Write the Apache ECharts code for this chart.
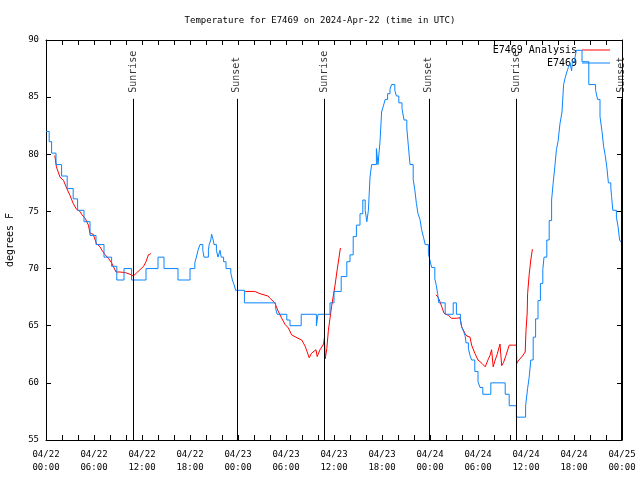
<!DOCTYPE html>
<html><head><meta charset="utf-8">
<script src="https://cdn.jsdelivr.net/npm/echarts@6/dist/echarts.min.js"></script>
<style>html,body{margin:0;padding:0;background:#fff}#c{width:640px;height:480px}</style>
</head><body><div id="c"></div>
<script>
const titleText = 'Temperature for E7469 on 2024-Apr-22 (time in UTC)';
const yAxisName = 'degrees F';
const xTickLabels = ['04/22\n00:00','04/22\n06:00','04/22\n12:00','04/22\n18:00','04/23\n00:00','04/23\n06:00','04/23\n12:00','04/23\n18:00','04/24\n00:00','04/24\n06:00','04/24\n12:00','04/24\n18:00','04/25\n00:00'];
const seriesNames = ['E7469 Analysis', 'E7469'];

// hours since 04/22 00:00 UTC
const obsHours = [0,0.4,0.7,1.25,1.95,2.65,3.4,3.95,4.75,5.5,6.25,7.25,8.2,8.85,9.75,10.7,12.5,14.0,14.75,16.5,18.0,18.6,18.8,19.0,19.25,19.6,19.75,20.3,20.4,20.6,20.7,20.9,21.0,21.3,21.5,21.75,21.9,22.2,22.5,23.1,23.3,23.5,23.7,24.8,28.7,28.9,30.1,30.5,31.9,33.8,34.0,35.5,36.0,36.9,37.6,38.0,38.4,38.8,39.25,39.6,39.9,40.1,40.3,40.5,40.7,41.3,41.5,41.75,41.95,42.2,42.4,42.7,43.0,43.2,43.6,43.8,44.1,44.5,44.75,45.1,45.3,45.5,45.9,46.1,46.3,46.5,46.75,46.95,47.2,47.4,47.8,48.0,48.2,48.6,48.8,48.95,49.1,49.9,50.9,51.3,51.8,51.95,52.2,52.4,52.5,52.8,53.0,53.2,53.6,54.0,54.25,54.6,55.6,57.4,57.9,58.8,59.95,60.2,60.4,60.6,60.9,61.2,61.5,61.8,62.1,62.25,62.6,62.9,63.2,63.4,63.6,63.8,64.0,64.25,64.5,64.7,64.9,65.1,65.3,65.5,65.7,65.8,66.1,66.3,67.0,67.85,68.7,68.95,69.25,69.5,69.7,69.9,70.1,70.3,70.6,70.7,70.85,71.3,71.5,71.7,71.9];
const obsTemps = [82.0,81.1,80.1,79.1,78.1,77.0,76.1,75.1,74.1,72.9,72.1,71.0,70.2,69.0,70.0,69.0,70.0,71.0,70.0,69.0,70.0,70.5,71.0,71.6,72.1,71.6,71.0,71.6,72.1,72.5,73.0,72.5,72.1,71.6,71.0,71.6,71.0,70.6,70.0,69.6,69.0,68.6,68.1,67.0,66.5,66.0,65.5,65.0,66.0,65.0,66.0,67.0,68.0,69.3,70.6,71.2,72.8,73.8,74.8,76.0,75.1,74.1,75.1,78.0,79.1,80.5,79.1,81.1,83.7,84.3,84.8,85.3,85.7,86.1,85.6,85.1,84.5,84.0,83.0,82.3,80.7,79.1,77.8,76.9,75.7,74.8,74.3,73.4,72.7,72.1,71.3,70.7,70.1,69.1,68.5,67.8,67.0,66.0,67.0,66.0,65.5,64.9,64.5,64.1,63.5,63.0,62.4,62.0,61.0,60.1,59.6,59.0,60.0,59.0,58.0,57.0,58.0,59.5,60.5,62.0,64.0,65.6,67.2,68.7,69.9,71.0,72.5,74.2,76.0,77.5,78.9,80.4,81.1,82.7,83.7,86.1,86.7,87.2,87.6,88.0,87.3,88.1,88.4,89.1,88.1,86.1,85.6,84.8,83.3,82.0,80.7,79.9,78.9,77.5,77.1,76.3,75.1,74.5,73.7,72.5,72.3];

const anaHours = [1.1,1.3,1.75,2.2,2.6,3.0,3.4,3.8,4.25,4.5,4.9,5.1,5.3,5.5,5.9,6.3,6.75,7.0,7.4,7.8,8.2,8.75,9.25,9.9,10.5,10.9,11.3,11.75,12.2,12.5,12.8,13.1,
  18,
  24.9,26.1,26.75,27.75,28.0,28.6,29.0,29.5,29.9,30.3,30.7,31.5,31.96,32.4,32.9,33.2,33.75,33.9,34.25,34.7,34.8,34.9,35.1,35.3,35.7,36.1,36.4,36.8,
  42,
  48.75,49.0,49.25,49.5,49.75,50.3,50.7,51.3,51.75,51.96,52.4,52.6,53.0,53.2,53.6,54.0,54.5,54.9,55.3,55.5,55.7,55.9,56.1,56.4,56.75,56.96,57.2,57.5,57.9,58.4,58.8,58.85,59.0,59.5,59.9,60.0,60.15,60.2,60.4,60.6,60.8];
const anaTemps = [79.9,78.9,78.0,77.7,77.0,76.4,75.7,75.2,75.0,74.7,74.4,74.3,73.8,73.1,73.0,72.2,71.9,71.6,71.2,70.9,70.5,69.7,69.7,69.65,69.5,69.35,69.6,69.9,70.2,70.6,71.2,71.3,
  null,
  68.0,68.0,67.8,67.6,67.4,67.0,66.3,65.6,65.1,64.8,64.2,63.9,63.75,63.2,62.2,62.6,62.9,62.3,62.9,63.4,63.9,62.1,63.0,64.6,66.7,68.4,69.9,71.8,
  null,
  67.7,67.5,67.1,66.6,66.1,65.9,65.65,65.65,65.7,64.9,64.3,64.1,64.0,63.3,62.6,62.0,61.7,61.4,62.1,62.4,62.9,61.4,61.9,62.5,63.4,61.5,61.8,62.4,63.3,63.3,63.3,61.7,61.9,62.3,62.7,64.6,66.1,67.8,69.5,70.75,71.7];

const sunHours = [10.9, 23.85, 34.8, 47.85, 58.8, 71.9];
const sunNames = ['Sunrise','Sunset','Sunrise','Sunset','Sunrise','Sunset'];

const FONT = 'DejaVu Sans Mono';
const SUN_TOP = 84.85;
const Y_MIN = 55, Y_MAX = 90;

const obsData = obsHours.map((h, i) => [h, obsTemps[i]]);
const anaData = anaHours.map((h, i) => [h, anaTemps[i] == null ? '-' : anaTemps[i]]);
const sunLines = sunHours.map(h => [{coord: [h, Y_MIN]}, {coord: [h, SUN_TOP]}]);
const sunLabels = sunHours.map((h, i) => ({name: sunNames[i], value: [h, SUN_TOP]}));

const tickCommon = {show: true, inside: true, length: 5, lineStyle: {color: '#000', width: 1}};
const chart = echarts.init(document.getElementById('c'), null, {renderer: 'canvas'});
chart.setOption({
  animation: false,
  backgroundColor: '#fff',
  title: {text: titleText, left: 'center', top: 11,
    textStyle: {fontFamily: FONT, fontSize: 9, fontWeight: 'normal', color: '#000'}},
  legend: {
    data: seriesNames, orient: 'vertical', right: 30, top: 44, align: 'right', padding: 0,
    icon: 'rect', itemWidth: 28, itemHeight: 1, itemGap: 1,
    textStyle: {fontFamily: FONT, fontSize: 10, color: '#000', lineHeight: 12},
    selectedMode: false
  },
  grid: {left: 46, right: 18, top: 40, bottom: 40, containLabel: false, outerBoundsMode: 'none'},
  xAxis: [{
    type: 'value', min: 0, max: 72, interval: 6, position: 'bottom',
    axisLine: {show: true, onZero: false, lineStyle: {color: '#000', width: 1}},
    axisTick: tickCommon,
    minorTick: {show: true, splitNumber: 3, length: 5, lineStyle: {color: '#000', width: 1}},
    splitLine: {show: false},
    axisLabel: {margin: 8, fontFamily: FONT, fontSize: 9, color: '#000', lineHeight: 13,
      formatter: v => xTickLabels[Math.round(v / 6)]}
  }, {
    type: 'value', min: 0, max: 72, interval: 6, position: 'top',
    axisLine: {show: true, onZero: false, lineStyle: {color: '#000', width: 1}},
    axisTick: tickCommon,
    minorTick: {show: true, splitNumber: 3, length: 5, lineStyle: {color: '#000', width: 1}},
    splitLine: {show: false}, axisLabel: {show: false}
  }],
  yAxis: [{
    type: 'value', min: Y_MIN, max: Y_MAX, interval: 5, position: 'left',
    name: yAxisName, nameLocation: 'middle', nameGap: 31,
    nameTextStyle: {fontFamily: FONT, fontSize: 10, color: '#000'},
    axisLine: {show: true, onZero: false, lineStyle: {color: '#000', width: 1}},
    axisTick: tickCommon, splitLine: {show: false},
    axisLabel: {margin: 7, fontFamily: FONT, fontSize: 9, color: '#000'}
  }, {
    type: 'value', min: Y_MIN, max: Y_MAX, interval: 5, position: 'right',
    axisLine: {show: true, onZero: false, lineStyle: {color: '#000', width: 1}},
    axisTick: tickCommon, splitLine: {show: false}, axisLabel: {show: false}
  }],
  series: [{
    name: seriesNames[0], type: 'line', data: anaData, showSymbol: false, symbol: 'none',
    connectNulls: false, color: '#ff0000', lineStyle: {width: 1, color: '#ff0000'}, z: 3
  }, {
    name: seriesNames[1], type: 'line', data: obsData, step: 'end', showSymbol: false, symbol: 'none',
    color: '#0a84ff', lineStyle: {width: 1, color: '#0a84ff'}, z: 4
  }, {
    name: 'sun', type: 'scatter', data: sunLabels, symbolSize: 0, silent: true, z: 5,
    label: {show: true, formatter: p => p.name, position: 'top', distance: 6, rotate: 90,
      align: 'left', verticalAlign: 'middle', fontFamily: FONT, fontSize: 10, color: '#000'},
    markLine: {silent: true, symbol: ['none', 'none'], label: {show: false},
      lineStyle: {color: '#000', width: 1, type: 'solid'}, data: sunLines}
  }]
});
</script></body></html>
